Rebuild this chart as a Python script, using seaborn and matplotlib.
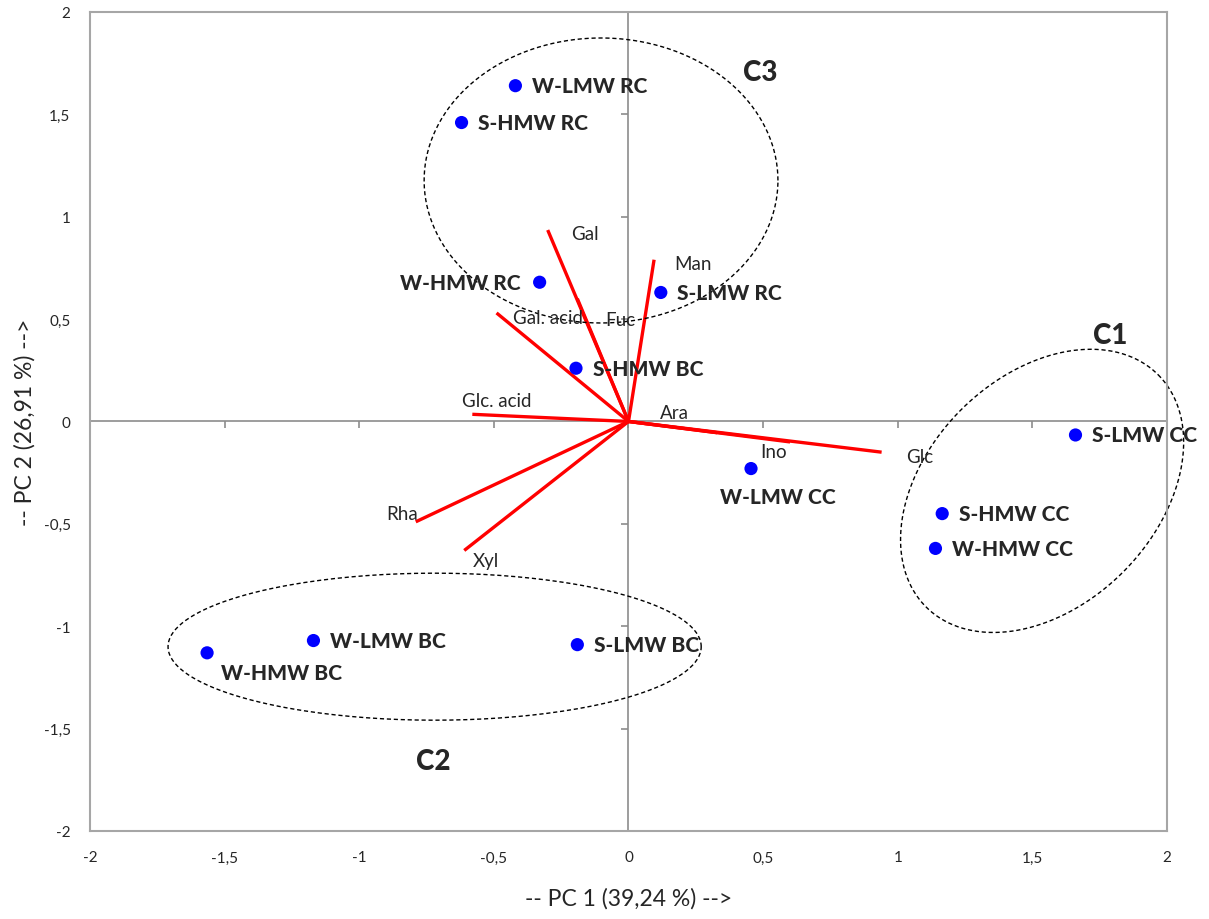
import numpy as np
import pandas as pd
import matplotlib.pyplot as plt
import seaborn as sns

# sample scores (PC1, PC2)
samples = ["W-LMW RC", "S-HMW RC", "W-HMW RC", "S-LMW RC", "S-HMW BC", "W-LMW CC",
           "S-LMW CC", "S-HMW CC", "W-HMW CC", "W-LMW BC", "W-HMW BC", "S-LMW BC"]
pc1 = [-0.42, -0.62, -0.33, 0.12, -0.195, 0.455, 1.66, 1.165, 1.14, -1.17, -1.565, -0.19]
pc2 = [1.64, 1.46, 0.68, 0.63, 0.26, -0.23, -0.066, -0.45, -0.62, -1.07, -1.13, -1.09]
# label placement: (dx, dy) in points, ha
label_pos = [(12, 0, "left"), (12, 0, "left"), (-14, 0, "right"), (12, 0, "left"),
             (12, 0, "left"), (-22, -20, "left"), (12, 0, "left"), (12, 0, "left"),
             (12, 0, "left"), (12, 0, "left"), (10, -14, "left"), (12, 0, "left")]

# variable loadings
variables = ["Gal", "Man", "Gal. acid", "Fuc", "Glc. acid", "Ara", "Ino", "Glc", "Rha", "Xyl"]
load1 = [-0.30, 0.095, -0.49, -0.19, -0.58, 0.33, 0.60, 0.94, -0.79, -0.61]
load2 = [0.935, 0.79, 0.53, 0.60, 0.035, -0.055, -0.10, -0.15, -0.49, -0.63]
var_text = [(-0.16, 0.92), (0.24, 0.77), (-0.30, 0.51), (-0.03, 0.50), (-0.49, 0.10),
            (0.17, 0.045), (0.54, -0.145), (1.08, -0.17), (-0.84, -0.45), (-0.53, -0.68)]

# cluster ellipses: center, half-axis vectors (data units)
clusters = ["C1", "C2", "C3"]
ell_center = [(1.536, -0.339), (-0.72, -1.10), (-0.102, 1.177)]
ell_u = [(0.431, 0.567), (0.99, 0.0), (0.657, 0.0)]
ell_v = [(0.301, -0.396), (0.0, 0.359), (0.0, 0.696)]
cluster_text = [(1.79, 0.42), (-0.725, -1.66), (0.49, 1.707)]

ticks = [-2, -1.5, -1, -0.5, 0, 0.5, 1, 1.5, 2]

sns.set_style("white")
plt.rcParams["font.family"] = ["Lato", "DejaVu Sans"]

fig = plt.figure(figsize=(12.09, 9.20), dpi=100)
ax = fig.add_axes([0.0744, 0.0957, 0.8909, 0.8902])

ax.axhline(0, color="#8c8c8c", lw=1.2, zorder=1)
ax.axvline(0, color="#8c8c8c", lw=1.2, zorder=1)
ax.plot(ticks, np.zeros(len(ticks)), ls="none", marker=3, ms=5, mew=1.2, color="#8c8c8c")
ax.plot(np.zeros(len(ticks)), ticks, ls="none", marker=0, ms=5, mew=1.2, color="#8c8c8c")

for x, y in zip(load1, load2):
    ax.plot([0, x], [0, y], color="red", lw=2.4, zorder=2, solid_capstyle="butt")
for name, (tx, ty) in zip(variables, var_text):
    ax.text(tx, ty, name, fontsize=13.5, ha="center", va="center")

t = np.linspace(0, 2 * np.pi, 300)
for c, u, v in zip(ell_center, ell_u, ell_v):
    ex = c[0] + u[0] * np.cos(t) + v[0] * np.sin(t)
    ey = c[1] + u[1] * np.cos(t) + v[1] * np.sin(t)
    ax.plot(ex, ey, color="black", lw=1, ls=(0, (3, 2)), zorder=2, clip_on=False)
for name, (tx, ty) in zip(clusters, cluster_text):
    ax.text(tx, ty, name, fontsize=20, fontweight="black", ha="center", va="center")

df = pd.DataFrame({"pc1": pc1, "pc2": pc2, "sample": samples})
sns.scatterplot(data=df, x="pc1", y="pc2", color="#0000ff", s=90, edgecolor="none", ax=ax, zorder=3)
for name, x, y, (dx, dy, ha) in zip(samples, pc1, pc2, label_pos):
    ax.annotate(name, (x, y), xytext=(dx, dy), textcoords="offset points",
                fontsize=15, fontweight="black", ha=ha, va="center")

ax.set_xlim(-2, 2)
ax.set_ylim(-2, 2)
ax.set_xticks(ticks)
ax.set_yticks(ticks)
fmt = lambda v: ("%g" % v).replace(".", ",")
ax.set_xticklabels([fmt(v) for v in ticks], fontsize=11)
ax.set_yticklabels([fmt(v) for v in ticks], fontsize=11)
ax.tick_params(length=0, pad=14)
for s in ax.spines.values():
    s.set_color("#a6a6a6")
    s.set_linewidth(1.5)

ax.set_xlabel("-- PC 1 (39,24 %) -->", fontsize=16.5, labelpad=16)
ax.set_ylabel("-- PC 2 (26,91 %) -->", fontsize=16.5, labelpad=6)

fig.savefig("out.png", dpi=100)
